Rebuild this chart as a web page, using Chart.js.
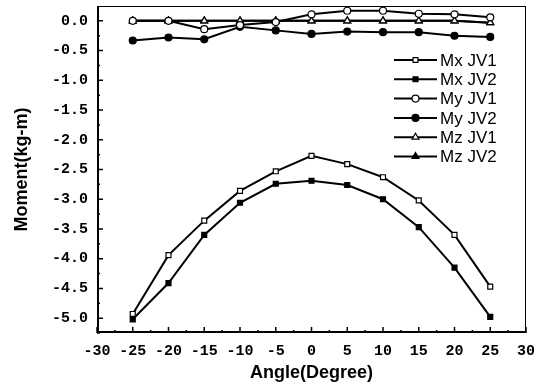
<!DOCTYPE html>
<html><head><meta charset="utf-8">
<script src="https://cdn.jsdelivr.net/npm/chart.js"></script>
<style>html,body{margin:0;padding:0;background:#fff;}canvas{display:block;}</style>
</head><body>
<canvas id="c" width="540" height="387"></canvas>
<script>
const angles = [-25,-20,-15,-10,-5,0,5,10,15,20,25];
const mxJV1 = [-4.93,-3.94,-3.36,-2.86,-2.53,-2.27,-2.41,-2.63,-3.02,-3.60,-4.47];
const mxJV2 = [-5.02,-4.41,-3.60,-3.06,-2.74,-2.69,-2.76,-3.00,-3.47,-4.15,-4.98];
const myJV1 = [0.00,0.00,-0.14,-0.07,-0.02,0.11,0.17,0.17,0.12,0.11,0.06];
const myJV2 = [-0.33,-0.28,-0.31,-0.10,-0.16,-0.22,-0.18,-0.19,-0.19,-0.25,-0.27];
const mzJV1 = [0.00,0.00,0.00,0.00,0.00,0.00,0.00,0.00,0.00,0.00,-0.03];
const mzJV2 = [0.00,0.00,0.00,0.00,0.00,0.00,0.00,0.00,0.00,0.00,-0.03];
const seriesNames = ['Mx JV1','Mx JV2','My JV1','My JV2','Mz JV1','Mz JV2'];
const yTicks = [0,-0.5,-1,-1.5,-2,-2.5,-3,-3.5,-4,-4.5,-5];
const xTicks = [-30,-25,-20,-15,-10,-5,0,5,10,15,20,25,30];

const styles = [
  {pointStyle:'rect', fill:'#fff', r:3.5},
  {pointStyle:'rect', fill:'#000', r:3.5},
  {pointStyle:'circle', fill:'#fff', r:3.5},
  {pointStyle:'circle', fill:'#000', r:3.5},
  {pointStyle:'triangle', fill:'#fff', r:4},
  {pointStyle:'triangle', fill:'#000', r:4}
];
const allData = [mxJV1,mxJV2,myJV1,myJV2,mzJV1,mzJV2];
const datasets = allData.map((arr,i)=>({
  label: seriesNames[i],
  data: arr.map((v,j)=>({x:angles[j], y:v})),
  borderColor:'#000', borderWidth:2,
  pointStyle: styles[i].pointStyle,
  pointRadius: styles[i].r,
  pointBackgroundColor: styles[i].fill,
  pointBorderColor:'#000', pointBorderWidth:1.2,
  tension:0, fill:false
}));

const framePlugin = {
  id:'frame',
  afterDraw(chart){
    const ctx = chart.ctx, a = chart.chartArea;
    const xs = chart.scales.x, ys = chart.scales.y;
    ctx.save();
    ctx.strokeStyle = '#000';
    ctx.lineWidth = 1;
    ctx.beginPath();
    ctx.moveTo(a.left, a.top+0.5); ctx.lineTo(a.right, a.top+0.5);
    ctx.moveTo(a.right-0.5, a.top); ctx.lineTo(a.right-0.5, a.bottom);
    ctx.stroke();
    ctx.lineWidth = 2;
    ctx.beginPath();
    ctx.moveTo(a.left+1, a.top); ctx.lineTo(a.left+1, a.bottom);
    ctx.moveTo(a.left, a.bottom-1); ctx.lineTo(a.right, a.bottom-1);
    ctx.stroke();
    ctx.lineWidth = 1.5;
    ctx.beginPath();
    yTicks.forEach(v=>{
      const p = ys.getPixelForValue(v);
      ctx.moveTo(a.left, p); ctx.lineTo(a.left+6, p);
      const m = ys.getPixelForValue(v-0.25);
      ctx.moveTo(a.left, m); ctx.lineTo(a.left+3, m);
    });
    xTicks.forEach(v=>{
      const p = xs.getPixelForValue(v);
      ctx.moveTo(p, a.bottom); ctx.lineTo(p, a.bottom-6);
      if (v<30){ const m = xs.getPixelForValue(v+2.5);
      ctx.moveTo(m, a.bottom); ctx.lineTo(m, a.bottom-3); }
    });
    ctx.stroke();
    const lx0 = 394, lx1 = 437, ly0 = 60, dy = 19.3;
    ctx.font = '17px "Liberation Sans", Arial, sans-serif';
    ctx.textBaseline = 'middle';
    ctx.textAlign = 'left';
    chart.data.datasets.forEach((ds,i)=>{
      const y = ly0 + i*dy;
      ctx.lineWidth = 2; ctx.strokeStyle = '#000';
      ctx.beginPath(); ctx.moveTo(lx0,y); ctx.lineTo(lx1,y); ctx.stroke();
      ctx.fillStyle = ds.pointBackgroundColor; ctx.strokeStyle='#000'; ctx.lineWidth = 1.2;
      Chart.helpers.drawPoint(ctx, {pointStyle: ds.pointStyle, radius: ds.pointRadius, borderWidth:1.2, rotation:0}, (lx0+lx1)/2, y);
      ctx.fillStyle = '#000';
      ctx.fillText(ds.label, lx1+3, y+1);
    });
    ctx.restore();
  }
};

new Chart(document.getElementById('c'), {
  type:'line',
  data:{datasets},
  options:{
    responsive:false, animation:false,
    layout:{padding:{left:0,right:14,top:6,bottom:0}},
    plugins:{legend:{display:false}, tooltip:{enabled:false}},
    scales:{
      x:{type:'linear', min:-30, max:30,
        afterBuildTicks(s){ s.ticks = xTicks.map(v=>({value:v})); },
        afterFit(s){ s.height = 54; s.paddingLeft = 0; s.paddingRight = 0; },
        grid:{display:false, drawTicks:false}, border:{display:false},
        ticks:{color:'#000', padding:9, maxRotation:0, autoSkip:false,
          font:{family:'"Liberation Mono", monospace', size:15, weight:'bold'},
          callback:v=>String(v)},
        title:{display:true, text:'Angle(Degree)', color:'#000',
          font:{family:'"Liberation Sans", Arial, sans-serif', size:18, weight:'bold'},
          padding:{top:0,bottom:3}}
      },
      y:{type:'linear', min:-5.25, max:0.25,
        afterBuildTicks(s){ s.ticks = yTicks.map(v=>({value:v})); },
        afterFit(s){ s.width = 97; s.paddingTop = 0; s.paddingBottom = 0; },
        grid:{display:false, drawTicks:false}, border:{display:false},
        ticks:{color:'#000', padding:9, autoSkip:false,
          font:{family:'"Liberation Mono", monospace', size:15, weight:'bold'},
          callback:v=>Number(v).toFixed(1)},
        title:{display:true, text:'Moment(kg-m)', color:'#000',
          font:{family:'"Liberation Sans", Arial, sans-serif', size:18, weight:'bold'},
          padding:{top:11,bottom:0}}
      }
    }
  },
  plugins:[framePlugin]
});
</script>
</body></html>
